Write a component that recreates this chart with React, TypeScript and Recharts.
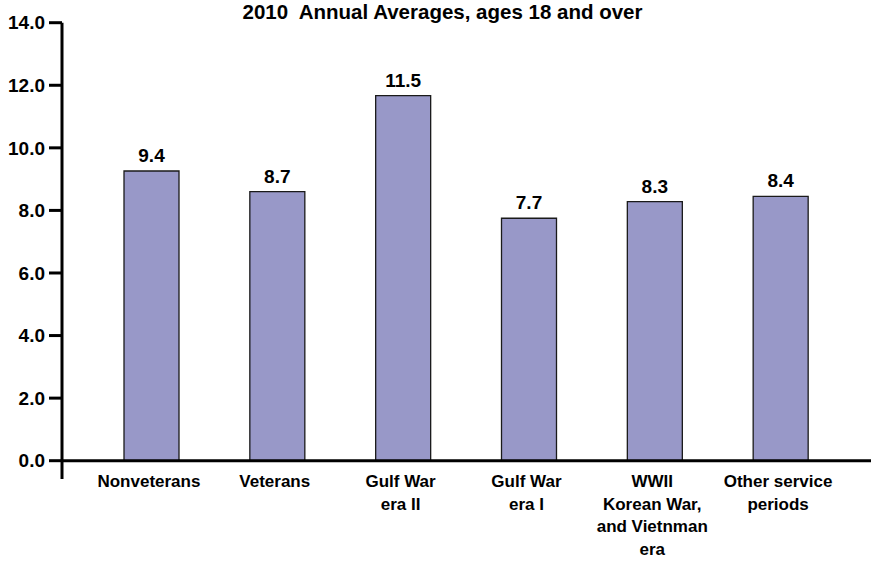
import { Bar, BarChart, LabelList, ReferenceLine, XAxis, YAxis } from "recharts";

const categories = [
  "Nonveterans",
  "Veterans",
  "Gulf War\nera II",
  "Gulf War\nera I",
  "WWII\nKorean War,\nand Vietnman\nera",
  "Other service\nperiods",
];
// bar heights as drawn in the source picture
const rates = [9.26, 8.6, 11.67, 7.75, 8.28, 8.45];
// printed value labels
const rateLabels = ["9.4", "8.7", "11.5", "7.7", "8.3", "8.4"];
const yTicks = [0, 2, 4, 6, 8, 10, 12, 14];

const FONT = '"Liberation Sans", Arial, sans-serif';

const data = categories.map((name, i) => ({
  name,
  rate: rates[i],
  label: rateLabels[i],
}));

function CategoryTick({ x, y, payload }: any) {
  const lines = String(payload.value).split("\n");
  return (
    <text
      x={x - 3}
      y={y + 8}
      textAnchor="middle"
      fontFamily={FONT}
      fontWeight="bold"
      fontSize={17}
      fill="#000"
    >
      {lines.map((line, i) => (
        <tspan key={i} x={x - 3} dy={i === 0 ? 0 : 22.5}>
          {line}
        </tspan>
      ))}
    </text>
  );
}

export default function App() {
  return (
    <div style={{ position: "absolute", left: 0, top: 0, width: 871, height: 562, background: "#fff" }}>
      <div
        style={{
          position: "absolute",
          left: 0,
          top: 0,
          width: 885,
          textAlign: "center",
          fontFamily: FONT,
          fontWeight: "bold",
          fontSize: 20.5,
          lineHeight: "normal",
          color: "#000",
        }}
      >
        2010&nbsp; Annual Averages, ages 18 and over
      </div>
      <BarChart
        width={871}
        height={562}
        data={data}
        margin={{ top: 22.7, right: 0, bottom: 0, left: 0 }}
      >
        <XAxis
          dataKey="name"
          axisLine={false}
          tickLine={false}
          tickSize={0}
          tickMargin={0}
          height={83}
          interval={0}
          padding={{ left: 27, right: 27 }}
          tick={<CategoryTick />}
        />
        <YAxis
          type="number"
          domain={[-0.585, 14]}
          ticks={yTicks}
          interval={0}
          width={62}
          tickFormatter={(v: number) => v.toFixed(1)}
          axisLine={{ stroke: "#000", strokeWidth: 3 }}
          tickLine={{ stroke: "#000", strokeWidth: 3 }}
          tickSize={13}
          tickMargin={4}
          tick={{ fill: "#000", fontSize: 19, fontWeight: "bold", fontFamily: FONT }}
        />
        <Bar
          dataKey="rate"
          barSize={55}
          fill="#9898c8"
          stroke="#1a1a1a"
          strokeWidth={1.3}
          isAnimationActive={false}
        >
          <LabelList
            dataKey="label"
            position="top"
            offset={9}
            fill="#000"
            fontSize={19}
            fontWeight="bold"
            fontFamily={FONT}
          />
        </Bar>
        <ReferenceLine y={0} stroke="#000" strokeWidth={3} />
      </BarChart>
    </div>
  );
}
